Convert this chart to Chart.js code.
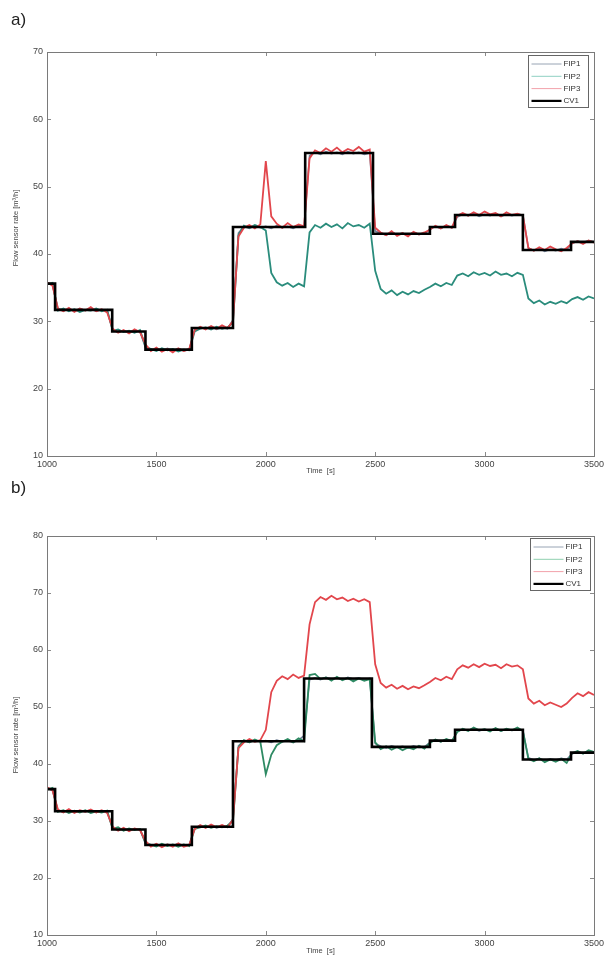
<!DOCTYPE html>
<html><head><meta charset="utf-8">
<script src="https://cdn.jsdelivr.net/npm/chart.js@4.4.0/dist/chart.umd.min.js"></script>
<style>
html,body{margin:0;padding:0;background:#fff;}
#wrap{position:relative;width:610px;height:960px;overflow:hidden;background:#fff;}
canvas{position:absolute;left:0;}
.lbl{position:absolute;left:11px;font:17px "Liberation Sans",Arial,sans-serif;color:#222;}
</style></head><body>
<div id="wrap">
<canvas id="cA" width="610" height="480" style="top:0"></canvas>
<canvas id="cB" width="610" height="480" style="top:480px"></canvas>
<div class="lbl" style="top:10px">a)</div>
<div class="lbl" style="top:478px">b)</div>
</div>
<script>
// ---------- data ----------
const timeS = [1000,1025,1050,1075,1100,1125,1150,1175,1200,1225,1250,1275,1300,1325,1350,1375,1400,1425,1450,1475,1500,1525,1550,1575,1600,1625,1650,1675,1700,1725,1750,1775,1800,1825,1850,1875,1900,1925,1950,1975,2000,2025,2050,2075,2100,2125,2150,2175,2200,2225,2250,2275,2300,2325,2350,2375,2400,2425,2450,2475,2500,2525,2550,2575,2600,2625,2650,2675,2700,2725,2750,2775,2800,2825,2850,2875,2900,2925,2950,2975,3000,3025,3050,3075,3100,3125,3150,3175,3200,3225,3250,3275,3300,3325,3350,3375,3400,3425,3450,3475,3500];

const seriesNames = ['FIP1','FIP2','FIP3','CV1'];
const xTicks = [1000,1500,2000,2500,3000,3500];
const yTicksA = [10,20,30,40,50,60,70];
const yTicksB = [10,20,30,40,50,60,70,80];
const xTitle = 'Time  [s]';
const yTitle = 'Flow sensor rate [m\u00B3/h]';

// chart a)
const cvTimeA = [1000,1037,1298,1450,1662,1850,2180,2490,2750,2865,3175,3395,3500];
const cvFlowA = [35.6,31.7,28.5,25.8,29.0,44.0,55.0,43.0,44.0,45.8,40.6,41.8,41.8];
const fip1A = [35.7,35.4,31.9,31.6,31.8,31.5,31.9,31.6,31.8,31.5,31.7,31.6,
  28.7,28.4,28.6,28.3,28.7,28.5,
  26.1,25.7,25.9,25.6,26.0,25.7,25.9,25.6,25.8,
  28.8,29.1,28.9,29.2,28.8,29.1,28.9,
  30.2,43.1,44.1,43.8,44.2,43.9,44.1,43.8,44.2,43.9,44.1,43.8,44.2,44.0,
  54.6,55.1,54.8,55.2,54.9,55.1,54.8,55.2,54.9,55.1,54.8,55.0,
  43.4,43.1,42.8,43.2,42.9,43.1,42.8,43.2,42.9,43.0,
  43.7,44.1,43.8,44.2,43.9,
  45.5,45.9,45.7,46.0,45.6,45.9,45.7,46.0,45.6,45.9,45.7,45.9,45.8,
  40.9,40.5,40.8,40.4,40.7,40.5,40.8,40.6,
  41.6,41.9,41.7,42.0,41.8];
const fip2A = [35.5,35.7,31.6,31.9,31.5,31.8,31.4,31.7,31.6,31.9,31.5,31.7,
  28.6,28.8,28.4,28.6,28.3,28.7,
  26.3,25.9,25.6,26.0,25.7,25.9,25.5,25.8,25.7,
  28.5,28.9,29.1,28.8,29.2,28.9,29.1,
  29.8,42.8,44.2,43.9,44.3,44.0,43.5,37.2,35.8,35.3,35.7,35.1,35.6,35.2,
  43.2,44.3,43.9,44.5,44.0,44.4,43.8,44.6,44.1,44.3,43.9,44.5,
  37.5,34.8,34.1,34.6,33.9,34.4,34.0,34.5,34.2,34.7,
  35.1,35.6,35.2,35.7,35.4,
  36.8,37.1,36.7,37.3,36.9,37.2,36.8,37.4,36.9,37.1,36.7,37.2,36.9,
  33.4,32.7,33.1,32.5,32.9,32.6,33.0,32.7,
  33.3,33.6,33.2,33.7,33.4];
const fip3A = [35.8,35.3,31.9,31.5,32.0,31.4,31.9,31.6,32.1,31.5,31.8,31.3,
  28.9,28.3,28.7,28.2,28.8,28.4,
  26.6,25.6,26.1,25.5,25.9,25.4,26.0,25.6,25.9,
  28.7,29.2,28.8,29.3,28.9,29.4,29.0,
  30.0,42.6,43.9,44.3,43.8,44.4,53.8,45.6,44.5,43.9,44.6,44.0,44.4,44.1,
  54.2,55.4,55.0,55.7,55.2,55.8,55.1,55.6,55.3,55.9,55.2,55.5,
  43.9,43.2,42.8,43.4,42.7,43.1,42.6,43.3,42.9,43.2,
  43.6,44.2,43.8,44.3,43.9,
  45.7,46.1,45.7,46.2,45.8,46.3,45.9,46.1,45.6,46.2,45.8,46.0,45.7,
  40.9,40.5,41.0,40.6,41.1,40.7,40.4,40.9,
  41.6,41.9,41.5,42.0,41.7];

// chart b)
const cvTimeB = [1000,1037,1298,1450,1662,1850,2175,2485,2750,2865,3175,3395,3500];
const cvFlowB = [35.6,31.7,28.5,25.8,29.0,44.0,55.0,43.0,44.1,46.0,40.8,42.0,42.0];
const fip1B = [35.7,35.4,31.8,31.6,31.9,31.5,31.8,31.6,31.9,31.5,31.7,31.6,
  28.7,28.4,28.6,28.3,28.6,28.5,
  26.0,25.7,25.9,25.6,25.9,25.7,26.0,25.6,25.8,
  28.8,29.1,28.9,29.2,28.8,29.1,28.9,
  30.4,43.2,44.1,43.8,44.2,43.9,44.1,43.8,44.2,43.9,44.1,43.8,44.2,45.0,
  54.8,55.1,54.8,55.2,54.9,55.1,54.8,55.2,54.9,55.1,54.8,55.0,
  43.6,43.1,42.8,43.2,42.9,43.1,42.8,43.2,42.9,43.0,
  43.8,44.2,43.9,44.3,44.0,
  45.7,46.1,45.9,46.2,45.8,46.1,45.9,46.2,45.8,46.1,45.9,46.1,45.9,
  41.1,40.7,41.0,40.6,40.9,40.7,41.0,40.8,
  41.8,42.1,41.9,42.2,42.0];
const fip2B = [35.5,35.8,31.6,31.9,31.4,31.8,31.5,31.9,31.4,31.7,31.5,31.8,
  28.6,28.9,28.3,28.7,28.4,28.6,
  26.2,25.8,25.5,26.0,25.6,25.9,25.5,25.9,25.6,
  28.6,28.9,29.2,28.8,29.1,28.9,29.2,
  30.0,42.9,44.2,43.8,44.3,43.9,38.2,41.6,43.3,43.9,44.4,43.8,44.5,44.0,
  55.6,55.8,54.9,55.2,54.6,55.3,54.7,55.1,54.5,55.0,54.6,54.9,
  43.8,42.6,43.1,42.5,43.0,42.4,42.9,42.6,43.2,42.7,
  43.7,44.3,43.9,44.4,44.0,
  45.6,46.2,45.8,46.4,45.9,46.1,45.7,46.3,45.8,46.2,45.9,46.4,45.8,
  40.9,40.5,41.0,40.3,40.8,40.4,40.9,40.2,
  41.9,42.3,41.8,42.4,42.1];
const fip3B = [35.9,35.4,32.0,31.5,32.1,31.4,31.9,31.6,32.0,31.5,31.9,31.4,
  29.0,28.3,28.8,28.2,28.7,28.4,
  26.5,25.5,26.0,25.4,25.9,25.5,26.1,25.5,25.8,
  28.6,29.3,28.8,29.4,28.9,29.3,28.9,
  30.2,42.8,43.8,44.4,43.9,44.2,46.0,52.6,54.6,55.4,54.9,55.7,55.1,55.5,
  64.5,68.4,69.3,68.8,69.5,68.9,69.2,68.6,69.0,68.5,68.9,68.4,
  57.5,54.2,53.4,53.9,53.2,53.7,53.1,53.6,53.3,53.8,
  54.4,55.1,54.7,55.3,54.9,
  56.6,57.3,56.9,57.5,57.0,57.6,57.2,57.4,56.8,57.5,57.1,57.3,56.6,
  51.5,50.6,51.1,50.3,50.8,50.4,50.0,50.6,
  51.6,52.4,51.9,52.6,52.1];

// ---------- drawing ----------
const FONT = '"Liberation Sans", Arial, sans-serif';
const pts = (xs, ys) => xs.map((x, i) => ({x: x, y: ys[i]}));

const framePlugin = {
  id: 'frame',
  afterDraw(chart, args, opts) {
    const {ctx, chartArea: a, scales} = chart;
    ctx.save();
    ctx.strokeStyle = '#8a8a8a';
    ctx.lineWidth = 1;
    ctx.beginPath();
    scales.x.ticks.forEach(t => {
      const px = Math.round(scales.x.getPixelForValue(t.value)) + 0.5;
      ctx.moveTo(px, a.bottom); ctx.lineTo(px, a.bottom - 4);
      ctx.moveTo(px, a.top); ctx.lineTo(px, a.top + 4);
    });
    scales.y.ticks.forEach(t => {
      const py = Math.round(scales.y.getPixelForValue(t.value)) + 0.5;
      ctx.moveTo(a.left, py); ctx.lineTo(a.left + 4, py);
      ctx.moveTo(a.right, py); ctx.lineTo(a.right - 4, py);
    });
    ctx.stroke();
    ctx.strokeStyle = '#7a7a7a';
    ctx.strokeRect(Math.round(a.left) + 0.5, Math.round(a.top) + 0.5,
                   Math.round(a.right - a.left), Math.round(a.bottom - a.top));
    ctx.fillStyle = '#444';
    ctx.font = '7.5px ' + FONT;
    ctx.textAlign = 'center';
    ctx.textBaseline = 'middle';
    ctx.translate(16, opts.yTitleY);
    ctx.rotate(-Math.PI / 2);
    ctx.fillText(yTitle, 0, 0);
    ctx.restore();
    // legend
    ctx.save();
    const w = 60, h = 52;
    const lx = Math.round(a.right - opts.legRight - w) + 0.5;
    const ly = Math.round(a.top + opts.legTop) + 0.5;
    ctx.fillStyle = '#fff';
    ctx.fillRect(lx, ly, w, h);
    ctx.strokeStyle = '#666';
    ctx.lineWidth = 1;
    ctx.strokeRect(lx, ly, w, h);
    ctx.font = '8px ' + FONT;
    ctx.textAlign = 'left';
    ctx.textBaseline = 'middle';
    seriesNames.forEach((name, k) => {
      const d = chart.data.datasets.find(ds => ds.label === name);
      const yy = ly + 8.5 + k * 12.3;
      ctx.strokeStyle = d.legendColor || d.borderColor;
      ctx.lineWidth = name === 'CV1' ? 2.2 : 1;
      ctx.beginPath();
      ctx.moveTo(lx + 3, yy); ctx.lineTo(lx + 33, yy);
      ctx.stroke();
      ctx.fillStyle = '#333';
      ctx.fillText(name, lx + 35, yy);
    });
    ctx.restore();
  }
};

function build(id, c) {
  const datasets = [
    {label: 'CV1', data: pts(c.cvT, c.cvV), stepped: true, borderColor: '#000', borderWidth: 2.6, order: 0},
    {label: 'FIP3', data: pts(timeS, c.f3), borderColor: '#e2464c', legendColor: '#f2a2aa', borderWidth: 1.8, order: 1},
    {label: 'FIP2', data: pts(timeS, c.f2), borderColor: c.col2, legendColor: c.leg2, borderWidth: 1.8, order: 2},
    {label: 'FIP1', data: pts(timeS, c.f1), borderColor: '#6f7f96', legendColor: '#98a4b4', borderWidth: 1.6, order: 3}
  ];
  return new Chart(document.getElementById(id), {
    type: 'line',
    data: {datasets},
    options: {
      responsive: false, animation: false, devicePixelRatio: 1,
      elements: {point: {radius: 0}, line: {tension: 0}},
      layout: {padding: {top: c.padTop, right: 16, left: 0, bottom: 0}},
      plugins: {legend: {display: false}, tooltip: {enabled: false},
                frame: {yTitleY: c.yTitleY, legRight: c.legRight, legTop: c.legTop}},
      scales: {
        x: {
          type: 'linear', min: xTicks[0], max: xTicks[xTicks.length - 1],
          afterBuildTicks: s => { s.ticks = xTicks.map(v => ({value: v})); },
          afterFit: s => { s.height = c.xH; },
          grid: {display: false, drawTicks: false}, border: {display: false},
          ticks: {font: {size: 9, family: FONT}, color: '#444', padding: 3, maxRotation: 0, autoSkip: false,
                  callback: v => String(v)},
          title: {display: true, text: xTitle, font: {size: 7.5, family: FONT}, color: '#444', padding: {top: 0, bottom: 4.5}}
        },
        y: {
          type: 'linear', min: c.yTicks[0], max: c.yTicks[c.yTicks.length - 1],
          afterBuildTicks: s => { s.ticks = c.yTicks.map(v => ({value: v})); },
          afterFit: s => { s.width = 47; },
          grid: {display: false, drawTicks: false}, border: {display: false},
          ticks: {font: {size: 9, family: FONT}, color: '#444', padding: 4, autoSkip: false,
                  callback: v => String(v)}
        }
      }
    },
    plugins: [framePlugin]
  });
}

build('cA', {cvT: cvTimeA, cvV: cvFlowA, f1: fip1A, f2: fip2A, f3: fip3A,
  col2: '#2a8c7c', leg2: '#8fd0c2', yTicks: yTicksA, padTop: 52, xH: 24, yTitleY: 228, legRight: 6, legTop: 3});
build('cB', {cvT: cvTimeB, cvV: cvFlowB, f1: fip1B, f2: fip2B, f3: fip3B,
  col2: '#2e8a63', leg2: '#8fd0b0', yTicks: yTicksB, padTop: 56, xH: 25, yTitleY: 255, legRight: 4, legTop: 2});
</script>
</body></html>
